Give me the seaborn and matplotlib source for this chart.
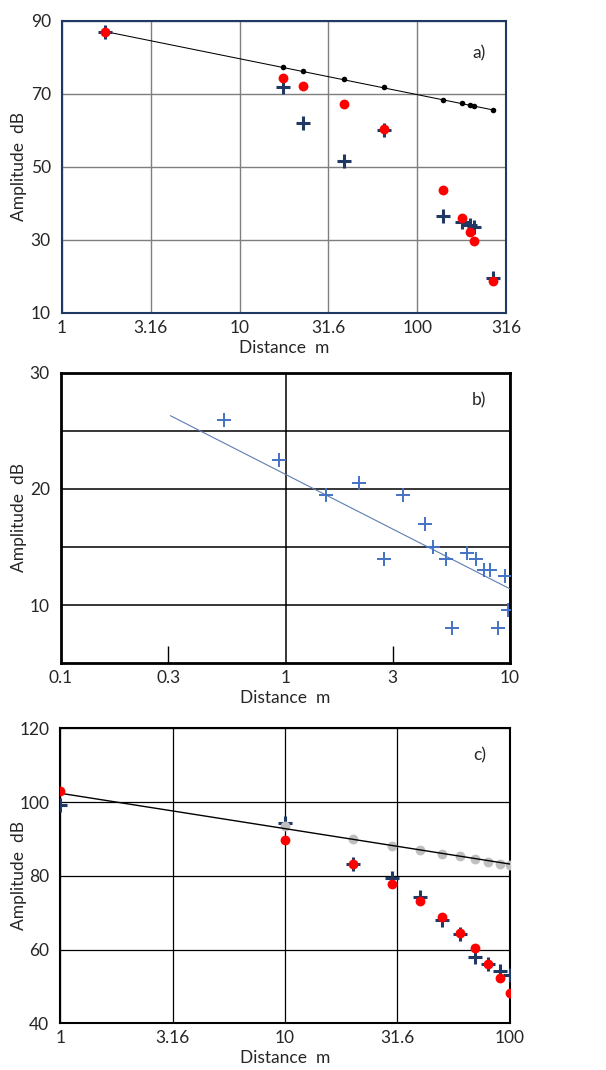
import matplotlib
matplotlib.use("Agg")
import matplotlib.pyplot as plt
import seaborn as sns

# panel a
a_dist_black = [17.6, 22.8, 38.7, 64.7, 139.5, 178, 197, 210, 267]
a_amp_black = [77.5, 76.4, 74.1, 71.8, 68.4, 67.4, 67.0, 66.7, 65.6]
a_dist_red = [1.75, 17.6, 22.8, 38.7, 64.7, 139.5, 178, 197, 210, 267]
a_amp_red = [87.1, 74.4, 72.3, 67.2, 60.3, 43.6, 35.9, 32.0, 29.7, 18.6]
a_dist_cross = [1.75, 17.6, 22.8, 38.7, 64.7, 139.5, 178, 197, 210, 267]
a_amp_cross = [87.0, 71.8, 61.9, 51.7, 60.0, 36.5, 34.8, 34.0, 33.5, 19.5]
a_line_x = [1.75, 267]
a_line_y = [87.1, 65.6]
a_xticks = [1, 3.16, 10, 31.6, 100, 316]
a_xlabels = ["1", "3.16", "10", "31.6", "100", "316"]
a_yticks = [10, 30, 50, 70, 90]

# panel b
b_dist = [0.531, 0.937, 1.52, 2.12, 2.75, 3.35, 4.18, 4.56, 5.21, 5.52,
          6.45, 7.03, 7.63, 8.17, 8.83, 9.46, 9.79]
b_amp = [25.9, 22.45, 19.45, 20.5, 14.0, 19.45, 17.0, 15.0, 14.0, 8.0,
         14.5, 14.0, 13.0, 13.0, 8.0, 12.5, 9.55]
b_line_x = [0.307, 10]
b_line_y = [26.3, 11.4]
b_xticks = [0.1, 1, 10]
b_xminor = [0.3, 3]
b_xlabels = ["0.1", "1", "10"]
b_xminor_labels = ["0.3", "3"]
b_yticks = [10, 20, 30]
b_yminor = [15, 25]

# panel c
c_dist = [1, 10, 20, 30, 40, 50, 60, 70, 80, 90, 100]
c_amp_red = [103.0, 89.7, 83.2, 77.9, 73.2, 68.9, 64.6, 60.3, 56.2, 52.3, 48.2]
c_amp_cross = [99.2, 94.2, 83.2, 79.5, 74.3, 68.1, 64.1, 58.0, 56.2, 54.1, 53.0]
c_dist_gray = [10, 20, 30, 40, 50, 60, 70, 80, 90, 100]
c_amp_gray = [93.4, 90.1, 88.2, 87.1, 86.0, 85.3, 84.7, 83.8, 83.3, 83.0]
c_line_x = [1, 100]
c_line_y = [102.4, 83.2]
c_xticks = [1, 3.16, 10, 31.6, 100]
c_xlabels = ["1", "3.16", "10", "31.6", "100"]
c_yticks = [40, 60, 80, 100, 120]

sns.set_style("white")
plt.rcParams["font.family"] = ["Lato", "DejaVu Sans"]

navy = "#1F3864"
red = "#FF0000"
fs = 12.5

fig = plt.figure(figsize=(6.06, 10.7), dpi=100)
ax_a = fig.add_axes([0.1023, 0.7078, 0.7327, 0.2726])
ax_b = fig.add_axes([0.1007, 0.3801, 0.741, 0.2716])
ax_c = fig.add_axes([0.0995, 0.0436, 0.742, 0.2757])

# ---- a)
ax = ax_a
ax.set_xscale("log")
sns.lineplot(x=a_line_x, y=a_line_y, color="black", linewidth=0.75, ax=ax, zorder=3)
sns.scatterplot(x=a_dist_black, y=a_amp_black, color="black", s=16, linewidth=0, ax=ax, zorder=4)
sns.scatterplot(x=a_dist_cross, y=a_amp_cross, marker="+", color=navy, s=110, linewidth=2.2, ax=ax, zorder=4)
sns.scatterplot(x=a_dist_red, y=a_amp_red, color=red, s=50, linewidth=0, ax=ax, zorder=5)
ax.set_xlim(1, 316)
ax.set_ylim(10, 90)
ax.set_xticks(a_xticks)
ax.set_xticklabels(a_xlabels)
ax.set_yticks(a_yticks)
ax.minorticks_off()
ax.grid(True, color="#7f7f7f", linewidth=1)
for s in ax.spines.values():
    s.set_color(navy)
    s.set_linewidth(1.5)
ax.text(0.94, 0.89, "a)", transform=ax.transAxes, ha="center", va="center", fontsize=fs)

# ---- b)
ax = ax_b
ax.set_xscale("log")
sns.lineplot(x=b_line_x, y=b_line_y, color="#5B7DB5", linewidth=0.8, ax=ax, zorder=3)
sns.scatterplot(x=b_dist, y=b_amp, marker="+", color="#4472C4", s=110, linewidth=1.4, ax=ax, zorder=4)
ax.set_xlim(0.1, 10)
ax.set_ylim(5, 30)
ax.set_xticks(b_xticks)
ax.set_xticklabels(b_xlabels)
ax.set_xticks(b_xminor, minor=True)
ax.set_xticklabels(b_xminor_labels, minor=True)
ax.set_yticks(b_yticks)
ax.set_yticks(b_yminor, minor=True)
ax.grid(True, which="major", axis="x", color="black", linewidth=1.1)
ax.grid(True, which="both", axis="y", color="black", linewidth=1.1)
ax.tick_params(axis="x", which="minor", direction="in", length=12, width=1, color="black", bottom=True)
for s in ax.spines.values():
    s.set_color("black")
    s.set_linewidth(2)
ax.text(0.93, 0.906, "b)", transform=ax.transAxes, ha="center", va="center", fontsize=fs)

# ---- c)
ax = ax_c
ax.set_xscale("log")
sns.scatterplot(x=c_dist, y=c_amp_cross, marker="+", color=navy, s=110, linewidth=2.2, ax=ax, zorder=3)
sns.scatterplot(x=c_dist_gray, y=c_amp_gray, color="#BFBFBF", s=50, linewidth=0, ax=ax, zorder=4)
sns.lineplot(x=c_line_x, y=c_line_y, color="black", linewidth=1.0, ax=ax, zorder=5)
sns.scatterplot(x=c_dist, y=c_amp_red, color=red, s=50, linewidth=0, ax=ax, zorder=6)
ax.set_xlim(1, 100)
ax.set_ylim(40, 120)
ax.set_xticks(c_xticks)
ax.set_xticklabels(c_xlabels)
ax.set_yticks(c_yticks)
ax.minorticks_off()
ax.grid(True, color="black", linewidth=0.9)
for s in ax.spines.values():
    s.set_color("black")
    s.set_linewidth(1.5)
ax.text(0.933, 0.909, "c)", transform=ax.transAxes, ha="center", va="center", fontsize=fs)

# y label centre sits ~19 px from the figure's left edge in all panels
for ax, left_px, width_px in ((ax_a, 62, 444), (ax_b, 61, 449), (ax_c, 60.3, 449.7)):
    ax.set_xlabel("Distance  m", fontsize=fs, labelpad=3)
    ax.set_ylabel("Amplitude  dB", fontsize=fs, va="center")
    ax.yaxis.set_label_coords((19 - left_px) / width_px, 0.5)
    ax.tick_params(axis="x", which="major", length=0, pad=5, labelsize=fs)
    ax.tick_params(axis="y", which="major", length=0, pad=8, labelsize=fs)
    ax.tick_params(axis="x", which="minor", labelsize=fs, pad=5)

fig.savefig("out.png", dpi=100)
